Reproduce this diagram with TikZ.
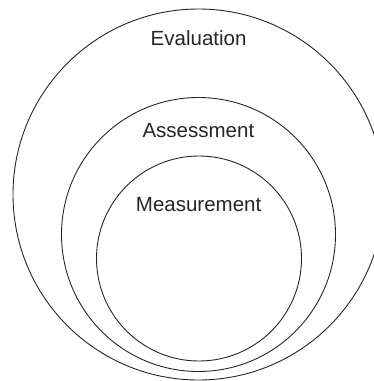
\documentclass[tikz,border=0pt]{standalone}
\usepackage{fontspec}
\setmainfont{Liberation Sans}
\begin{document}
\begin{tikzpicture}[x=1pt,y=-1pt,
  ring/.style={draw=black!85,line width=0.9pt},
  lbl/.style={anchor=base,inner sep=0pt,font=\fontsize{20.5}{24}\selectfont,text=black!85}]
\useasboundingbox (0,0) rectangle (374,381);
\clip (0,0) rectangle (374,381);
\draw[ring] (198.5,194.5) circle[radius=185.5];
\draw[ring] (198.5,234.5) circle[radius=137];
\draw[ring] (199,258.5) circle[radius=102.5];
\node[lbl] (eval) at (198.6,45) {Evaluation};
\node[lbl] (assess) at (198.4,137.7) {Assessment};
\node[lbl] (meas) at (198.6,211) {Measurement};
\end{tikzpicture}
\end{document}
